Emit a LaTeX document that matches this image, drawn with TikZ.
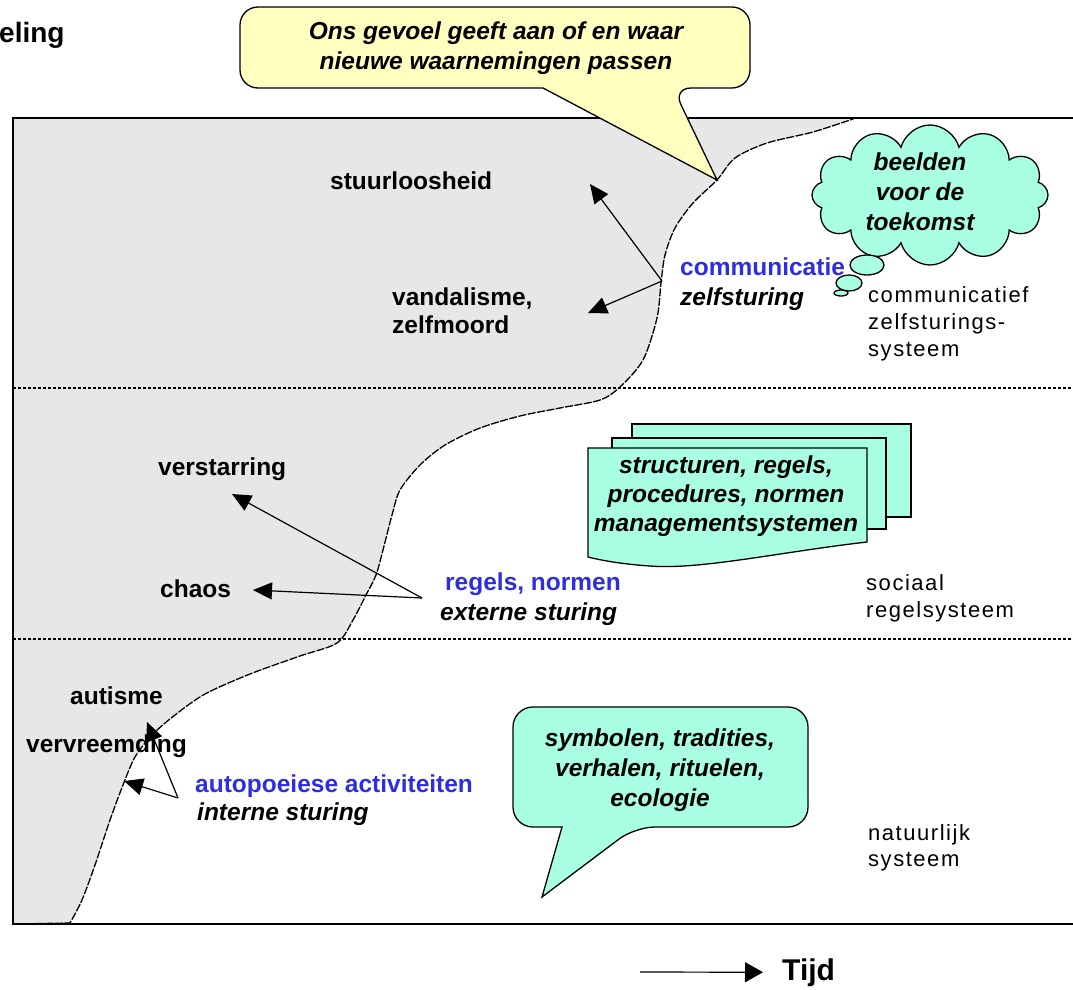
\documentclass[tikz,border=0pt]{standalone}
\usepackage{fontspec}
\setmainfont{Liberation Sans}
\usetikzlibrary{arrows.meta,shapes.symbols}

\definecolor{shade}{RGB}{231,231,231}
\definecolor{note}{RGB}{255,255,192}
\definecolor{aqua}{RGB}{168,255,228}
\definecolor{keyblue}{RGB}{45,45,225}

\tikzset{
  lbl/.style={font=\fontsize{24.5}{29}\selectfont\bfseries, inner sep=0pt, anchor=base west},
  keyw/.style={lbl, text=keyblue},
  mode/.style={font=\fontsize{24.5}{29}\selectfont\bfseries\itshape, inner sep=0pt, anchor=base west},
  sys/.style={font=\fontsize{22}{27}\selectfont\addfontfeature{LetterSpace=7}, inner sep=0pt, anchor=base west},
  inbox/.style={font=\fontsize{24.5}{30}\selectfont\bfseries\itshape, inner sep=0pt, align=center},
  ptr/.style={-{Triangle[length=19pt,width=17pt]}, line width=1.2pt},
  edge/.style={line width=1.3pt, dash pattern=on 8pt off 1.5pt},
  divider/.style={line width=1.2pt, dash pattern=on 2.5pt off 2.5pt},
  frame/.style={line width=2.5pt},
  shapeline/.style={line width=1.3pt},
}

\begin{document}
\begin{tikzpicture}[x=1pt, y=-1pt]
\useasboundingbox (0,0) rectangle (1073,990);

% shaded region left of the boundary curve
\draw[edge, fill=shade] (13,118) -- (853,118) -- plot[smooth] coordinates {
  (853,119) (813,132) (767,143) (735,158) (717,180) (693,203) (675,228)
  (665,255) (661,283) (657,318) (643,360) (620,387) (600,400) (560,408)
  (520,416) (480,428) (445,445) (420,465) (400,490) (392,515) (383,550)
  (376,575) (366,595) (353,620) (337,643) (300,656) (250,674) (205,694)
  (175,715) (152,735) (135,757) (123,785) (110,820) (95,865) (82,900) (70,923)}
  -- (13,924) -- cycle;

% level separators
\draw[divider] (13,388) -- (1073,388);
\draw[divider] (13,639) -- (1073,639);

% outer frame
\draw[frame] (1073,118) -- (13,118) -- (13,924) -- (1073,924);

% heading fragment
\node[font=\fontsize{28}{32}\selectfont\bfseries, inner sep=0pt, anchor=base west] (head) at (-1,43) {eling};

% labels in the shaded region
\node[lbl] (stuur) at (330,189) {stuurloosheid};
\node[lbl] (vand) at (392,305) {vandalisme,};
\node[lbl] (zelfm) at (392,333) {zelfmoord};
\node[lbl] (verst) at (158,475) {verstarring};
\node[lbl] (chaos) at (160,597) {chaos};
\node[lbl] (autis) at (70,704) {autisme};
\node[lbl] (vervr) at (26,752) {vervreemding};

% steering modes
\node[keyw] (comm) at (680,275) {communicatie};
\node[mode] (zelfs) at (680,305) {zelfsturing};
\node[keyw] (regels) at (445,590) {regels, normen};
\node[mode] (extern) at (440,620) {externe sturing};
\node[keyw] (autop) at (195,792) {autopoeiese activiteiten};
\node[mode] (intern) at (197,820) {interne sturing};

% system names
\node[sys] (s1a) at (868,302) {communicatief};
\node[sys] (s1b) at (868,329) {zelfsturings-};
\node[sys] (s1c) at (868,356) {systeem};
\node[sys] (s2a) at (866,590) {sociaal};
\node[sys] (s2b) at (866,617) {regelsysteem};
\node[sys] (s3a) at (868,840) {natuurlijk};
\node[sys] (s3b) at (868,866) {systeem};

% arrows from the steering modes
\coordinate (jc) at (662,281);
\coordinate (tc1) at (590,184);
\coordinate (tc2) at (588,313);
\draw[ptr] (jc) -- (tc1);
\draw[ptr] (jc) -- (tc2);

\coordinate (jr) at (422,598);
\coordinate (tr1) at (232,494);
\coordinate (tr2) at (253,590);
\draw[ptr] (jr) -- (tr1);
\draw[ptr] (jr) -- (tr2);

\coordinate (ja) at (178,798);
\coordinate (ta1) at (147,722);
\coordinate (ta2) at (124,781);
\draw[ptr] (ja) -- (ta1);
\draw[ptr] (ja) -- (ta2);

% callout at the top
\draw[shapeline, fill=note, rounded corners=18pt] (543,88) -- (240,88) -- (240,7) -- (750,7) -- (750,88) -- (673,88) [sharp corners] -- (717,180) -- cycle;
\node[inbox] (feel) at (496,48) {Ons gevoel geeft aan of en waar\\nieuwe waarnemingen passen};

% stacked documents
\draw[shapeline, fill=aqua] (632,424) rectangle (911,517);
\draw[shapeline, fill=aqua] (612,438) rectangle (886,529);
\draw[shapeline, fill=aqua] (588,448) -- (867,448) -- (867,542)
  .. controls (780,552) and (700,570) .. (650,566)
  .. controls (620,564) and (600,560) .. (588,557) -- cycle;
\node[inbox, font=\fontsize{24.5}{29}\selectfont\bfseries\itshape] (rules) at (726,496) {structuren, regels,\\procedures, normen\\managementsystemen};

% thought cloud
\node[cloud, cloud puffs=12, aspect=1.7, draw, fill=aqua, shapeline, minimum width=236pt, minimum height=140pt] (vision) at (930,195) {};
\node[inbox] (visiontext) at (920,192) {beelden\\voor de\\toekomst};
\draw[shapeline, fill=aqua] (867,265) ellipse [x radius=17pt, y radius=10pt];
\draw[shapeline, fill=aqua] (849,283) ellipse [x radius=13pt, y radius=8pt];
\draw[shapeline, fill=aqua] (841,293) ellipse [x radius=7pt, y radius=3pt];

% speech bubble at the bottom
\draw[shapeline, fill=aqua, rounded corners=20pt] (562,827) -- (513,827) -- (513,707) -- (808,707) -- (808,827) -- (635,827) [sharp corners] -- (542,897) -- cycle;
\node[inbox] (symb) at (660,770) {symbolen, tradities,\\verhalen, rituelen,\\ecologie};

% time axis
\node[font=\fontsize{30}{34}\selectfont\bfseries, inner sep=0pt, anchor=base west] (tijd) at (782,980) {Tijd};
\coordinate (ts) at (640,972);
\draw[ptr, -{Triangle[length=18pt,width=20pt]}] (ts) -- ([xshift=-19pt]tijd.west);
\end{tikzpicture}
\end{document}
